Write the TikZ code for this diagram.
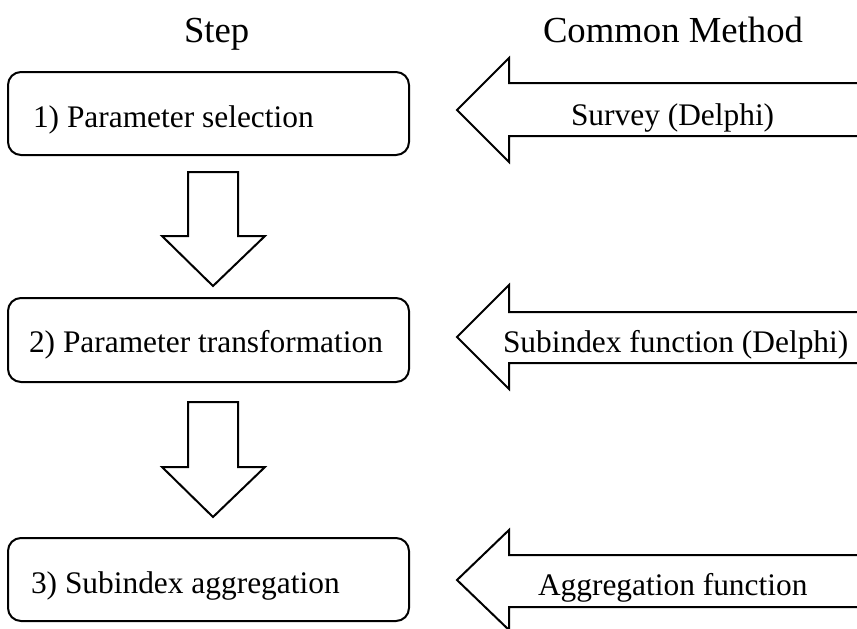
\documentclass[tikz,border=0pt]{standalone}
\usepackage{fontspec}
\setmainfont{Liberation Serif}
\begin{document}
\begin{tikzpicture}[x=1pt,y=-1pt,line width=2pt,line join=miter,
  stepbox/.style={draw,rounded corners=13pt},
  txt/.style={anchor=base west,inner sep=0pt,font=\fontsize{31.4}{36}\selectfont},
  head/.style={anchor=base west,inner sep=0pt,font=\fontsize{36.7}{42}\selectfont},
  blockarrow/.style={draw,fill=white}]
\useasboundingbox (0,0) rectangle (857,629);
% headers
\node[head] (hstep) at (183,42) {Step};
\node[head] (hmeth) at (542,42) {Common Method};
% step boxes
\draw[stepbox] (8,72) rectangle (409,155);
\coordinate (b1) at (8,72);
\draw[stepbox] (8,298) rectangle (409,382);
\draw[stepbox] (8,538) rectangle (409,621);
\node[txt] (t1) at (32,127) {1) Parameter selection};
\node[txt] (t2) at (28,352) {2) Parameter transformation};
\node[txt] (t3) at (30,593) {3) Subindex aggregation};
% down arrows
\draw[blockarrow] (188,172) -- (238,172) -- (238,236) -- (265,236) -- (213,286) -- (162,236) -- (188,236) -- cycle;
\draw[blockarrow] (188,402) -- (238,402) -- (238,467) -- (265,467) -- (213,517) -- (162,467) -- (188,467) -- cycle;
% method arrows (open at right)
\draw[blockarrow] (860,83) -- (509,83) -- (509,58) -- (457,110) -- (509,162) -- (509,136) -- (860,136);
\draw[blockarrow] (860,312) -- (509,312) -- (509,285) -- (457,337) -- (509,389) -- (509,363) -- (860,363);
\draw[blockarrow] (860,555) -- (509,555) -- (509,530) -- (457,580) -- (509,630) -- (509,607) -- (860,607);
\node[txt] (m1) at (570,125) {Survey (Delphi)};
\node[txt] (m2) at (502,352) {Subindex function (Delphi)};
\node[txt] (m3) at (537,595) {Aggregation function};
\end{tikzpicture}
\end{document}
